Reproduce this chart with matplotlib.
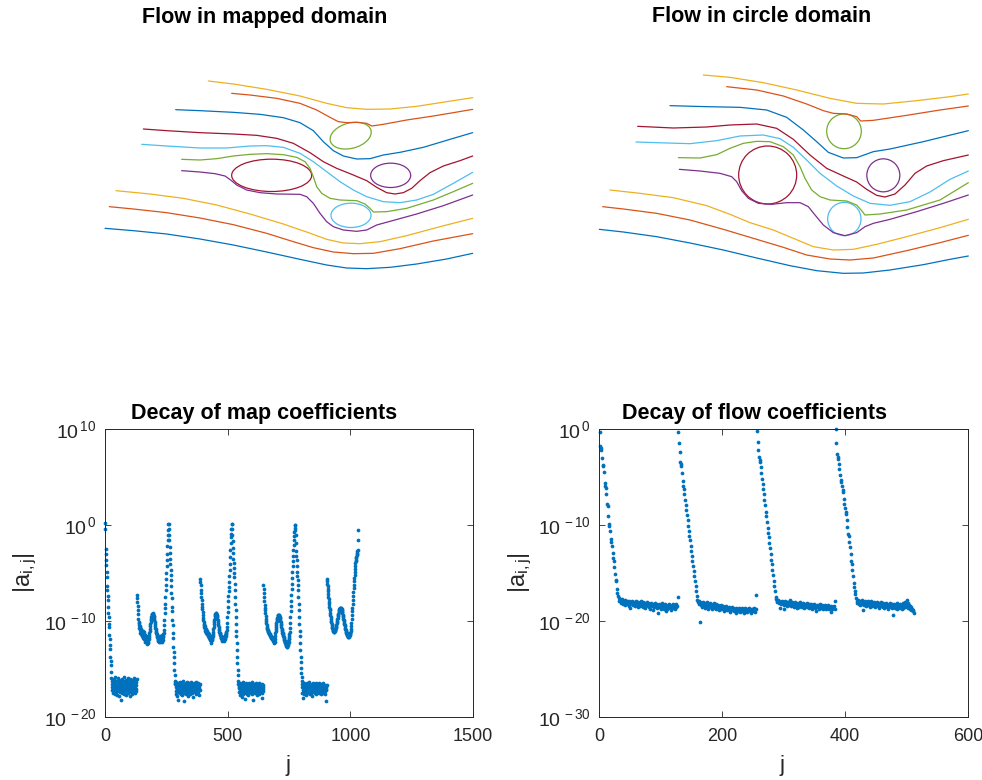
import numpy as np
import matplotlib
matplotlib.use("Agg")
import matplotlib.pyplot as plt
from matplotlib.patches import Ellipse

plt.rcParams['font.family'] = ['Liberation Sans', 'DejaVu Sans']
plt.rcParams['mathtext.fontset'] = 'custom'
plt.rcParams['mathtext.rm'] = 'Liberation Sans'
plt.rcParams['mathtext.it'] = 'Liberation Sans:italic'
plt.rcParams['mathtext.bf'] = 'Liberation Sans:bold'

# MATLAB default colour order
C_BLUE, C_ORANGE, C_YELLOW = '#0072BD', '#D95319', '#EDB120'
C_PURPLE, C_GREEN, C_LBLUE, C_RED = '#7E2F8E', '#77AC30', '#4DBEEE', '#A2142F'
line_colors = [C_BLUE, C_ORANGE, C_YELLOW, C_PURPLE, C_GREEN,
               C_LBLUE, C_RED, C_BLUE, C_ORANGE, C_YELLOW]

# ---------------- streamlines, mapped domain (x, y with y pointing down) ----------------
mapped_lines = [
    [(15,505),(100,512),(200,522),(300,537),(400,555),(500,576),(600,598),(680,615),(740,624),(800,626),(870,622),(950,612),(1040,597),(1118,580)],
    [(28,440),(100,447),(200,458),(300,474),(400,494),(500,520),(580,545),(640,563),(700,576),(760,581),(820,580),(900,566),(1000,543),(1118,521)],
    [(48,392),(150,402),(250,415),(350,435),(450,462),(550,492),(620,516),(680,538),(730,549),(780,551),(840,545),(920,527),(1020,500),(1118,475)],
    [(245,332),(300,336),(345,341),(375,348),(392,360),(410,375),(440,390),(480,398),(530,402),(600,403),(620,410),(640,430),(660,460),(680,485),(700,500),(730,510),(770,514),(800,510),(830,495),(870,484),(950,462),(1030,437),(1118,405)],
    [(245,298),(300,300),(350,296),(400,288),(450,283),(500,281),(550,284),(590,292),(615,305),(630,325),(640,350),(650,380),(665,400),(690,415),(720,420),(770,422),(795,432),(810,445),(820,456),(860,455),(920,445),(1000,420),(1060,395),(1118,370)],
    [(125,253),(200,258),(300,264),(380,264),(450,258),(500,257),(550,262),(600,280),(640,305),(680,335),(720,365),(760,390),(800,410),(850,425),(900,428),(950,420),(1000,403),(1060,370),(1118,337)],
    [(130,207),(200,212),(300,218),(400,222),(470,226),(530,235),(580,250),(630,278),(670,305),(710,325),(760,345),(800,362),(830,382),(860,398),(885,402),(910,398),(935,385),(960,362),(990,338),(1030,318),(1080,302),(1118,288)],
    [(227,149),(300,152),(400,157),(480,163),(550,173),(600,188),(640,212),(670,245),(700,272),(730,288),(770,297),(810,296),(850,285),(900,277),(970,262),(1050,238),(1118,218)],
    [(395,100),(450,105),(530,115),(600,130),(650,150),(690,172),(715,185),(740,188),(770,187),(800,190),(815,198),(850,193),(920,180),(1000,168),(1060,158),(1118,148)],
    [(325,63),(400,72),(500,88),(600,108),(680,130),(740,143),(800,148),(870,147),(950,139),(1040,125),(1118,113)],
]
# obstacles: centre x, centre y, width, height, tilt, colour
mapped_bodies = [
    (515, 346, 240, 97, 0, C_RED),
    (752, 227, 126, 76, -15, C_GREEN),
    (872, 346, 120, 73, 0, C_PURPLE),
    (753, 466, 120, 73, 0, C_LBLUE),
]

# ---------------- streamlines, circle domain ----------------
circle_lines = [
    [(28,508),(100,516),(200,530),(300,549),(400,570),(500,594),(600,617),(680,632),(760,640),(820,639),(900,630),(1000,614),(1080,598),(1135,588)],
    [(38,440),(100,447),(200,460),(300,480),(400,508),(500,538),(580,562),(650,585),(720,597),(780,600),(850,594),(950,572),(1050,548),(1135,526)],
    [(60,390),(150,400),(250,413),(350,437),(420,463),(480,488),(550,510),(610,535),(670,560),(730,570),(790,568),(860,553),(950,530),(1050,503),(1135,478)],
    [(268,328),(330,333),(390,340),(425,350),(440,365),(455,392),(475,415),(505,430),(545,433),(590,428),(630,428),(655,440),(675,465),(700,495),(730,518),(765,527),(800,518),(825,500),(850,490),(900,478),(980,455),(1060,430),(1135,405)],
    [(265,293),(330,294),(380,284),(420,265),(460,250),(500,244),(540,245),(580,260),(610,285),(630,320),(645,355),(665,390),(690,410),(720,420),(770,423),(800,435),(815,452),(825,465),(870,462),(950,450),(1050,420),(1135,368)],
    [(138,246),(200,248),(300,251),(380,242),(450,228),(520,225),(570,236),(610,262),(650,300),(690,340),(740,378),(790,408),(840,430),(900,436),(960,425),(1020,396),(1080,358),(1135,333)],
    [(143,199),(250,204),(350,201),(420,195),(500,192),(560,205),(610,238),(660,285),(710,325),(760,348),(800,366),(830,388),(860,406),(885,411),(915,402),(945,375),(975,340),(1010,318),(1060,302),(1135,285)],
    [(240,137),(350,140),(450,142),(530,150),(590,172),(640,210),(680,245),(715,277),(760,294),(800,293),(850,275),(900,267),(1000,245),(1135,212)],
    [(410,80),(500,90),(580,108),(650,132),(700,152),(730,160),(770,162),(800,170),(812,183),(850,181),(950,166),(1050,150),(1135,138)],
    [(340,45),(420,52),(520,68),(620,90),(720,115),(800,130),(880,132),(980,122),(1080,110),(1135,102)],
]
circle_bodies = [
    (533, 345, 174, 174, 0, C_RED),
    (762, 214, 104, 104, 0, C_GREEN),
    (880, 346, 99, 99, 0, C_PURPLE),
    (763, 477, 100, 100, 0, C_LBLUE),
]

# ---------------- log10 |a_ij| for the map coefficients (blocks of 129) ----------------
map_b1 = [0.2,-0.4,-2.5,-3.0,-3.6,-4.2,-4.9,-5.4,-6.4,-6.8,-7.4,-7.8,-8.5,-9.2,-9.6,-10.3,-10.6,-11.5,-11.9,-12.5,-12.9,-13.7,-14.2,-14.6,-15.3,
    -15.9,-16.6,-17.2,-16.3,-16.9,-17.5,-16.1,-16.8,-17.3,-16.5,-16.0,-17.0,-16.7,-17.6,-16.4,-16.9,-15.8,-17.1,-16.6,-17.4,
    -16.2,-16.8,-17.7,-16.5,-17.0,-16.3,-17.3,-15.9,-16.7,-17.2,-16.4,-17.8,-16.9,-16.1,-17.0,-16.6,-17.4,-16.3,-18.2,-16.8,
    -17.1,-16.5,-16.0,-17.3,-16.7,-17.5,-16.2,-16.9,-17.0,-16.4,-17.6,-16.6,-15.8,-17.2,-16.8,-16.3,-17.4,-16.9,-16.1,-17.0,
    -16.5,-17.7,-16.7,-16.2,-17.1,-16.6,-17.3,-15.9,-16.8,-17.5,-16.4,-17.0,-16.3,-16.9,-17.8,-16.6,-16.0,-17.2,-16.7,-17.4,
    -16.2,-16.8,-17.1,-16.5,-17.6,-16.1,-16.9,-17.3,-16.4,-16.7,-17.0,-15.9,-16.6,-17.2,-16.8,-16.3,-17.5,-16.5,-16.9,-17.1,
    -16.4,-16.7,-17.3,-16.0]
map_b2 = [-7.3,-7.6,-8.0,-8.4,-8.9,-9.3,-9.8,-10.1,-10.4,-10.2,-10.7,-10.5,
    -10.9,-10.6,-11.2,-10.8,-11.0,-11.4,-10.9,-11.3,-11.1,-11.6,-11.2,-11.0,-11.5,-11.8,-11.3,-11.6,-11.1,-11.9,-11.4,-11.7,
    -12.0,-11.5,-11.8,-12.2,-11.6,-11.9,-12.1,-11.7,-12.3,-11.9,-12.4,-12.0,-12.2,-11.8,-12.3,-12.0,-11.7,-11.9,-11.5,
    -11.3,-11.0,-10.8,-10.5,-10.3,-10.1,-9.9,-9.8,-9.6,-9.5,-9.4,-9.3,-9.3,-9.2,-9.3,-9.3,-9.4,-9.5,-9.6,-9.8,
    -9.9,-10.1,-10.3,-10.5,-10.7,-10.8,-11.0,-11.1,-11.3,-11.4,-11.5,-11.6,-11.7,-11.8,-11.9,
    -12.0,-11.8,-12.1,-11.9,-12.2,-11.7,-12.0,-11.8,-12.2,-11.9,-11.6,-12.1,-11.8,-12.0,-11.7,-12.2,-11.9,-11.5,-11.8,-11.6,
    -12.0,-11.4,-11.7,-11.2,-10.9,
    -10.4,-9.9,-9.2,-8.6,-8.2,-7.5,-6.8,-6.3,-5.6,-5.0,-4.3,-3.6,-3.0,-2.2,-1.6,-1.0,-0.5,0.1]
map_b3 = [0.1,-0.45,-1.0,-1.6,-2.3,-2.9,-3.5,-4.1,-4.7,-5.2,-5.7,-6.4,-7.1,-7.6,-8.5,-9.0,-9.9,-10.4,-11.3,-11.8,-12.7,-13.2,-13.8,-14.4,-15.1,-15.6,-16.2,-16.5,
    -16.6,-17.3,-16.9,-17.6,-16.4,-17.1,-17.8,-16.8,-17.2,-16.5,-17.4,-16.9,-18.2,-17.0,-16.6,-17.3,-16.8,-17.5,-16.4,-17.1,
    -16.7,-17.6,-17.0,-16.5,-17.2,-16.9,-17.7,-16.6,-17.3,-16.8,-17.4,-16.3,-17.0,-17.5,-16.7,-17.2,-16.9,-18.3,-17.1,-16.6,
    -17.3,-16.8,-17.6,-16.5,-17.0,-17.4,-16.7,-17.1,-16.4,-17.5,-16.9,-17.2,-16.6,-17.8,-17.0,-16.8,-17.3,-16.5,-17.1,-16.9,
    -17.6,-16.7,-17.2,-16.4,-17.0,-17.4,-16.8,-17.1,-16.6,-17.5,-16.9,-17.3,-16.7,-17.9,-17.0,-16.5,-17.2,-16.8,-17.4,-16.6,
    -17.1,-16.9,-17.6,-16.4,-17.3,-16.8,-17.0,-16.7,-17.5,-16.6,-17.2,-16.9,-17.4,-16.5,-17.1,-16.8,-17.7,-16.7,-17.0,-16.6,
    -17.2]
map_b4 = [-5.6,-5.9,-6.3,-6.8,-7.1,-7.5,-7.8,-8.2,-8.5,-8.8,-9.1,-9.4,-9.7,-9.9,-10.1,-10.3,-10.4,
    -10.6,-10.5,-10.8,-10.7,-11.0,-10.8,-11.1,-10.9,-11.2,-11.0,-11.3,-11.1,-11.4,-11.2,-11.5,-11.3,-11.6,-11.4,-11.7,-11.5,
    -11.8,-11.6,-11.7,-11.9,-11.6,-12.0,-11.8,-12.3,-11.9,-12.1,-11.8,-12.0,-11.7,-11.9,-11.6,-11.4,
    -11.1,-10.8,-10.6,-10.3,-10.1,-9.9,-9.7,-9.5,-9.4,-9.3,-9.2,-9.2,-9.3,-9.3,-9.4,
    -9.5,-9.6,-9.8,-9.9,-10.1,-10.3,-10.4,-10.6,-10.8,-10.9,-11.1,-11.2,-11.3,-11.4,-11.5,-11.6,-11.7,-11.8,-11.8,-11.9,
    -12.0,-11.8,-12.1,-11.9,-12.0,-11.7,-12.0,
    -11.8,-12.1,-11.9,-12.0,-11.7,-11.9,-11.6,-11.8,-11.5,-11.6,-11.3,-11.4,-11.1,-10.9,-10.6,
    -10.2,-9.6,-9.1,-8.5,-7.9,-7.4,-6.9,-6.5,-5.9,-5.3,-4.7,-4.1,-3.3,-2.6,-1.9,-1.3,-0.9,-0.4,0.1]
map_b5 = [0.1,-0.4,-1.0,-1.7,-2.4,-2.9,-3.5,-4.0,-4.5,-5.0,-5.4,-6.1,-6.8,-7.5,-8.2,-8.9,-9.6,-10.3,-11.0,-11.6,-12.3,-13.0,-13.7,-14.4,-15.1,-15.6,-16.2,-16.6,
    -17.0,-16.7,-17.4,-16.9,-17.7,-16.5,-17.2,-17.0,-16.8,-17.5,-16.6,-17.3,-17.9,-16.9,-17.1,-16.7,-17.6,-16.4,-17.2,-17.0,
    -16.8,-17.4,-16.6,-17.1,-18.1,-16.9,-17.3,-16.7,-17.5,-16.5,-17.2,-16.9,-17.0,-17.6,-16.8,-17.3,-16.6,-17.1,-16.9,-17.7,
    -16.5,-17.2,-16.8,-17.4,-17.0,-16.7,-17.3,-16.9,-17.1,-16.6,-17.5,-16.8,-17.2,-16.4,-17.0,-17.6,-16.9,-17.3,-16.7,-18.2,
    -17.1,-16.8,-17.4,-16.6,-17.0,-16.9,-17.5,-16.7,-17.2,-16.5,-17.3,-16.9,-17.1,-16.6,-17.7,-16.8,-17.0,-17.4,-16.7,-17.2,
    -16.9,-16.5,-17.3,-16.8,-17.6,-17.0,-16.6,-17.2,-16.9,-17.4,-16.7,-17.1,-16.8,-17.5,-16.6,-17.0,-18.0,-16.9,-17.3,-16.7,
    -17.1]
map_b6 = [-6.3,-6.7,-7.1,-7.5,-7.9,-8.3,-8.6,-8.9,-9.2,-9.5,-9.8,-10.0,-10.2,-10.4,-10.6,
    -10.7,-10.8,-10.9,-11.0,-11.0,-11.1,-11.2,-11.2,-11.3,-11.4,-11.4,-11.5,-11.5,-11.6,-11.6,-11.7,-11.7,-11.8,-11.7,-11.9,
    -11.8,-11.9,-12.0,-11.8,-12.1,-11.9,-12.2,-12.0,-12.3,-12.1,-12.2,-11.9,-11.6,-11.3,
    -11.0,-10.8,-10.6,-10.4,-10.2,-10.0,-9.9,-9.8,-9.7,-9.6,-9.5,-9.4,-9.4,-9.4,-9.4,-9.5,-9.5,-9.6,
    -9.7,-9.8,-10.0,-10.1,-10.3,-10.4,-10.6,-10.8,-10.9,-11.0,-11.2,-11.3,-11.4,-11.5,-11.6,-11.7,-11.8,-11.9,-12.0,-12.1,
    -12.2,-12.2,-12.3,-12.4,-12.5,-12.4,-12.6,-12.5,-12.7,-12.6,-12.7,-12.5,-12.3,-12.4,-12.1,-12.2,-11.9,-11.8,-11.6,-11.4,
    -11.1,-10.7,-10.2,-9.6,-9.0,-8.4,-7.9,-7.3,-6.7,-6.1,-5.5,-4.9,-4.3,-3.7,-3.2,-2.6,-2.1,-1.6,-1.1,-0.7,-0.3,0.0]
map_b7 = [0.0,-0.5,-1.0,-1.9,-2.7,-3.2,-3.6,-4.3,-4.9,-5.3,-5.7,-6.3,-6.8,-7.5,-8.2,-8.9,-9.6,-10.3,-11.0,-11.6,-12.3,-13.0,-13.7,-14.3,-14.9,-15.4,-15.8,-16.3,-16.6,
    -16.9,-17.5,-16.6,-17.2,-18.0,-16.8,-17.3,-16.5,-17.0,-17.6,-16.7,-17.1,-16.9,-17.4,-16.6,-17.2,-16.8,-17.7,-16.5,-17.0,
    -17.3,-16.9,-17.5,-16.7,-17.1,-16.6,-17.4,-16.8,-17.2,-16.4,-17.0,-17.6,-16.9,-17.3,-16.7,-17.1,-16.8,-17.5,-16.6,-17.2,
    -16.9,-17.8,-16.7,-17.0,-17.4,-16.5,-17.2,-16.8,-17.3,-16.6,-17.1,-16.9,-17.5,-16.7,-17.0,-16.8,-17.6,-16.5,-17.2,-16.9,
    -17.4,-16.7,-17.1,-16.6,-17.3,-16.8,-17.0,-17.5,-16.9,-17.2,-16.5,-17.4,-16.8,-17.1,-16.7,-17.6,-16.9,-17.0,-16.6,-17.3,
    -16.8,-17.2,-16.9,-17.5,-16.7,-17.1,-16.5,-17.4,-16.8,-17.0,-16.9,-17.3,-16.7,-17.6,-16.8,-17.2,-18.3,-16.9,-17.1,-16.7]
map_b8 = [-5.6,-5.8,-6.1,-6.4,-6.7,-6.9,-7.2,-7.5,-7.7,-8.0,-8.2,-8.5,-8.7,-8.9,-9.2,-9.4,-9.6,-9.8,-10.0,-10.1,
    -10.3,-10.4,-10.6,-10.7,-10.8,-10.9,-11.0,-11.0,-11.1,-11.1,-11.1,-11.0,
    -11.0,-10.9,-10.9,-10.8,-10.7,-10.6,-10.5,-10.4,-10.2,-10.1,-10.0,-9.8,-9.7,-9.5,-9.4,-9.3,-9.1,-9.0,-8.9,-8.8,
    -8.7,-8.7,-8.6,-8.6,-8.6,-8.6,-8.7,-8.7,-8.8,-8.9,-9.0,
    -9.1,-9.2,-9.4,-9.5,-9.6,-9.8,-9.9,-10.0,-10.2,-10.3,-10.4,-10.5,-10.7,-10.8,-10.9,-11.0,-11.1,-11.2,-11.3,-11.4,
    -11.5,-11.5,-11.6,-11.7,-11.6,-11.7,-11.6,-11.7,-11.5,-11.6,-11.4,-11.5,-11.3,-11.2,-11.0,-10.8,-10.5,
    -10.2,-9.8,-9.4,-9.0,-8.6,-8.2,-7.8,-7.4,-7.0,-6.6,-6.2,-5.8,-5.5,-5.2,-4.9,-4.6,-4.3,-4.0,-3.8,-3.6,
    -3.4,-3.3,-3.1,-3.0,-2.9,-2.7,-2.6,-1.6,-0.5]

# ---------------- log10 |a_ij| for the flow coefficients (blocks of 128) ----------------
flow_b1 = [-0.3,-1.8,-2.0,-2.2,-3.0,-3.8,-3.9,-4.5,-5.6,-5.9,-6.1,-6.8,-7.8,-8.0,-9.1,-9.9,-10.1,-10.6,-11.5,-11.8,-12.2,-12.9,-13.4,-13.8,-14.4,-15.1,-15.7,-15.8,-16.7,-17.1,-17.4,
    -17.6,-17.9,-17.7,-18.1,-17.8,-18.0,-17.7,-18.2,-17.9,-18.0,-18.3,-17.8,-18.1,-17.9,-18.2,-18.0,-18.4,-17.9,-18.1,-18.6,
    -18.0,-18.2,-17.9,-18.3,-18.1,-18.0,-18.4,-18.2,-17.9,-18.3,-18.1,-18.5,-18.0,-18.2,-18.4,-18.1,-18.3,-17.9,-18.2,-18.5,
    -18.0,-18.3,-18.1,-18.6,-18.2,-18.4,-18.0,-18.3,-18.1,-18.5,-18.2,-18.7,-18.3,-18.1,-18.4,-18.2,-18.9,-18.3,-18.5,-18.1,
    -18.4,-18.2,-18.6,-18.3,-19.2,-18.5,-18.2,-18.4,-18.7,-18.3,-18.5,-18.1,-18.4,-18.8,-18.3,-18.6,-18.2,-19.0,-18.4,-18.7,
    -18.3,-18.5,-18.2,-18.6,-18.4,-18.9,-18.3,-18.5,-18.2,-18.6,-18.4,-18.3,-18.7,-18.5,-18.2,-18.4,-17.5]
flow_b2 = [-0.3,-1.5,-2.4,-3.4,-3.6,-3.9,-4.6,-5.4,-5.9,-6.3,-6.8,-7.4,-7.9,-8.4,-9.0,-9.5,-10.1,-10.6,-11.1,-11.6,-12.2,-12.7,-13.2,-13.8,-14.3,-14.8,-15.3,-15.8,-16.4,-16.9,-17.4,
    -17.8,-18.0,-17.9,-18.2,-18.0,-20.1,-18.3,-18.1,-18.5,-18.0,-18.2,-18.4,-18.1,-18.6,-18.3,-18.0,-18.4,-18.2,-18.7,-18.3,
    -18.1,-18.5,-18.2,-18.4,-18.8,-18.3,-18.5,-18.1,-18.6,-18.4,-18.2,-18.7,-18.5,-18.3,-18.6,-18.9,-18.4,-18.6,-18.3,-18.7,
    -18.5,-18.8,-18.4,-18.6,-19.0,-18.5,-18.7,-18.4,-18.9,-18.6,-18.8,-18.5,-18.7,-19.1,-18.6,-18.9,-18.5,-18.8,-18.6,-19.0,
    -18.7,-18.9,-18.6,-19.2,-18.8,-18.7,-19.0,-18.6,-18.9,-18.7,-19.1,-18.8,-18.6,-19.0,-18.8,-19.2,-18.7,-18.9,-18.6,-19.0,
    -18.8,-19.1,-18.7,-18.9,-18.6,-19.0,-18.8,-19.2,-18.7,-18.9,-19.0,-18.8,-18.6,-19.1,-18.9,-18.7,-17.3]
flow_b3 = [-0.2,-1.4,-2.2,-2.9,-3.2,-3.4,-4.0,-4.6,-5.2,-5.7,-6.2,-6.8,-7.4,-7.9,-8.6,-9.1,-9.7,-10.3,-10.8,-11.3,-11.9,-12.4,-13.0,-13.6,-14.1,-14.7,-15.2,-15.8,-16.4,-16.9,-17.5,
    -17.7,-17.9,-18.0,-17.8,-18.1,-17.9,-18.6,-18.0,-18.2,-17.9,-18.1,-18.0,-18.3,-18.8,-18.1,-17.9,-18.2,-18.0,-18.4,-18.1,
    -18.0,-18.3,-18.1,-17.8,-18.2,-18.4,-18.0,-18.3,-18.1,-18.5,-18.2,-18.0,-18.4,-18.2,-18.6,-18.1,-18.3,-18.5,-18.2,-18.0,
    -18.3,-18.2,-18.5,-18.3,-18.1,-18.4,-18.6,-18.2,-18.4,-18.3,-18.5,-18.1,-18.4,-18.2,-18.6,-18.3,-18.5,-18.2,-18.4,-18.7,
    -18.3,-18.5,-18.2,-18.4,-18.6,-19.0,-18.3,-18.5,-18.4,-18.7,-18.3,-18.5,-18.2,-18.6,-18.4,-18.3,-18.7,-18.5,-18.4,-18.6,
    -18.3,-18.8,-18.5,-18.4,-18.6,-18.3,-18.7,-18.5,-18.6,-19.1,-18.4,-18.7,-18.5,-18.6,-18.4,-18.7,-17.9]
flow_b4 = [0.0,-1.5,-2.6,-2.9,-3.1,-3.6,-4.2,-4.8,-5.3,-5.5,-5.9,-6.4,-6.6,-7.3,-7.8,-8.2,-8.6,-8.9,-9.5,-10.2,-10.9,-11.1,-11.8,-12.3,-13.0,-13.8,-14.1,-14.7,-15.3,-16.0,-16.5,-16.9,-17.2,
    -17.6,-17.9,-18.1,-17.8,-18.2,-18.0,-17.9,-18.3,-18.1,-17.8,-18.2,-18.9,-18.0,-18.3,-17.9,-18.1,-18.4,-18.0,-18.2,-17.9,
    -18.3,-18.1,-18.5,-18.0,-18.2,-17.9,-18.4,-18.1,-18.3,-18.0,-18.2,-18.5,-18.1,-18.3,-18.0,-18.4,-18.2,-18.6,-18.1,-18.3,
    -18.0,-18.4,-18.2,-18.5,-18.1,-18.3,-18.6,-18.2,-18.4,-18.1,-18.5,-18.3,-18.7,-18.2,-18.4,-18.1,-18.5,-18.3,-18.6,-18.2,
    -19.4,-18.4,-18.2,-18.6,-18.3,-18.5,-18.1,-18.7,-18.4,-18.3,-18.6,-18.2,-18.5,-18.3,-18.8,-18.4,-18.1,-18.6,-18.3,-18.0,
    -18.5,-18.2,-17.8,-18.4,-18.6,-18.1,-18.3,-18.7,-18.4,-18.9,-18.5,-18.8,-19.0,-18.9,-19.2]

map_log = np.concatenate([map_b1, map_b2, map_b3, map_b4, map_b5, map_b6, map_b7, map_b8])
flow_log = np.concatenate([flow_b1, flow_b2, flow_b3, flow_b4])
map_j = np.arange(1, map_log.size + 1)
flow_j = np.arange(1, flow_log.size + 1)

W, H = 982, 780
fig = plt.figure(figsize=(W / 100, H / 100), dpi=100)


def px_box(x0, y0, x1, y1):
    return [x0 / W, 1 - y1 / H, (x1 - x0) / W, (y1 - y0) / H]


def draw_flow(ax, lines, bodies, xmax):
    for pts, col in zip(lines, line_colors):
        p = np.array(pts, dtype=float)
        ax.plot(p[:, 0], p[:, 1], color=col, lw=0.9, solid_capstyle='round',
                solid_joinstyle='round')
    for cx, cy, w, h, ang, col in bodies:
        ax.add_patch(Ellipse((cx, cy), w, h, angle=ang, fill=False,
                             edgecolor=col, lw=0.9))
    ax.set_xlim(0, xmax)
    ax.set_ylim(660, 0)
    ax.axis('off')


ax_tl = fig.add_axes(px_box(100, 60, 480, 280))
draw_flow(ax_tl, mapped_lines, mapped_bodies, 1140)
ax_tr = fig.add_axes(px_box(590, 60, 980, 280))
draw_flow(ax_tr, circle_lines, circle_bodies, 1170)

AX_COL = '#262626'


def style_log_axes(ax, xticks, yexp):
    ax.set_yscale('log')
    ax.set_xlim(xticks[0], xticks[-1])
    ax.set_ylim(10.0 ** yexp[0], 10.0 ** yexp[-1])
    ax.set_xticks(xticks)
    ax.set_xticklabels([str(t) for t in xticks])
    ax.set_yticks([10.0 ** e for e in yexp])
    ax.set_yticklabels([r'$10^{\,%d}$' % e for e in yexp])
    ax.yaxis.set_minor_locator(matplotlib.ticker.NullLocator())
    ax.tick_params(which='both', direction='in', top=True, right=True,
                   length=4, width=0.6, color=AX_COL, labelcolor=AX_COL,
                   labelsize=13)
    ax.tick_params(axis='x', pad=8)
    ax.tick_params(axis='y', pad=6, labelsize=14)
    for s in ax.spines.values():
        s.set_color(AX_COL)
        s.set_linewidth(0.7)


ax_bl = fig.add_axes(px_box(105, 429, 473, 717))
ax_bl.plot(map_j, 10.0 ** map_log, 'o', ms=2.7, mew=0, color=C_BLUE, clip_on=False)
style_log_axes(ax_bl, [0, 500, 1000, 1500], [-20, -10, 0, 10])

ax_br = fig.add_axes(px_box(599, 429, 968, 717))
ax_br.plot(flow_j, 10.0 ** flow_log, 'o', ms=2.7, mew=0, color=C_BLUE, clip_on=False)
style_log_axes(ax_br, [0, 200, 400, 600], [-30, -20, -10, 0])

title_kw = dict(ha='center', va='center', fontsize=15.5, fontweight='bold', color='black')
fig.text(265 / W, 1 - 17 / H, 'Flow in mapped domain', **title_kw)
fig.text(762 / W, 1 - 17 / H, 'Flow in circle domain', **title_kw)
fig.text(264 / W, 1 - 413 / H, 'Decay of map coefficients', **title_kw)
fig.text(754 / W, 1 - 413 / H, 'Decay of flow coefficients', **title_kw)

lab_kw = dict(ha='center', va='center', color=AX_COL)
fig.text(288 / W, 1 - 766 / H, 'j', fontsize=16, **lab_kw)
fig.text(782 / W, 1 - 766 / H, 'j', fontsize=16, **lab_kw)
fig.text(25 / W, 1 - 573 / H, r'$\mathrm{|a_{i,j}|}$', rotation=90, fontsize=17, **lab_kw)
fig.text(520 / W, 1 - 573 / H, r'$\mathrm{|a_{i,j}|}$', rotation=90, fontsize=17, **lab_kw)

fig.savefig('out.png', dpi=100)
